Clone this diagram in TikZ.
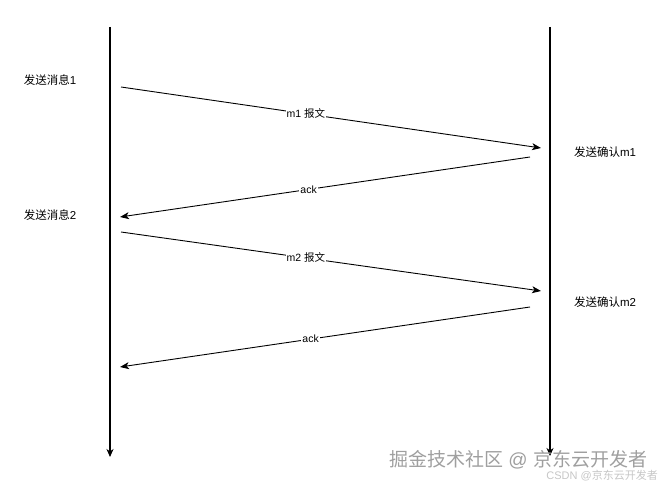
\documentclass[tikz,border=0pt]{standalone}
\usepackage{fontspec}
\setmainfont{Liberation Sans}
\newfontfamily\cjk{Noto Sans CJK SC}
\usetikzlibrary{arrows.meta}
\begin{document}
\begin{tikzpicture}[x=1pt,y=-1pt,
  lifeline/.style={line width=1.1pt,-{Stealth[length=8pt,width=7pt,inset=2.5pt]}},
  msg/.style={line width=0.9pt,-{Stealth[length=9pt,width=7pt,inset=2.5pt]}},
  sidelabel/.style={font=\fontsize{11.5}{13}\selectfont,inner sep=0pt},
  msglabel/.style={font=\fontsize{10.5}{12}\selectfont,fill=white,inner sep=1pt},
  wm/.style={inner sep=0pt,text=gray!75}]
\useasboundingbox (0,0) rectangle (661,486);
% lifelines
\coordinate (Ltop) at (110,27);
\coordinate (Lbot) at (110,457);
\coordinate (Rtop) at (550,27);
\coordinate (Rbot) at (550,456);
\draw[lifeline] (Ltop) -- (Lbot);
\draw[lifeline] (Rtop) -- (Rbot);
% message endpoints
\coordinate (s1) at (121,87);
\coordinate (e1) at (541,148);
\coordinate (s2) at (530,157);
\coordinate (e2) at (120,217);
\coordinate (s3) at (121,232);
\coordinate (e3) at (541,291);
\coordinate (s4) at (530,307);
\coordinate (e4) at (120,367);
\draw[msg] (s1) -- node[pos=0.44,msglabel] {m1 {\cjk 报文}} (e1);
\draw[msg] (s2) -- node[pos=0.54,msglabel] {ack} (e2);
\draw[msg] (s3) -- node[pos=0.44,msglabel] {m2 {\cjk 报文}} (e3);
\draw[msg] (s4) -- node[pos=0.535,msglabel] {ack} (e4);
% side labels
\node[sidelabel] (send1) at (50,80) {{\cjk 发送消息}1};
\node[sidelabel] (send2) at (50,215) {{\cjk 发送消息}2};
\node[sidelabel] (ack1) at (605,152) {{\cjk 发送确认}m1};
\node[sidelabel] (ack2) at (605,302) {{\cjk 发送确认}m2};
% watermark
\node[wm,font=\fontsize{19}{21}\selectfont,anchor=west] (wm1) at (389,460) {{\cjk 掘金技术社区} @ {\cjk 京东云开发者}};
\node[wm,font=\fontsize{11}{13}\selectfont,anchor=east,text=gray!45] (wm2) at (658,476) {CSDN @{\cjk 京东云开发者}};
\end{tikzpicture}
\end{document}
